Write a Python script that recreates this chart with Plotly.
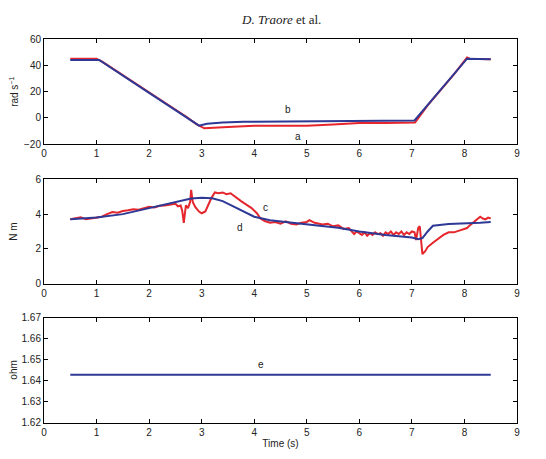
import plotly.graph_objects as go
from plotly.subplots import make_subplots

# Panel 1: speed (rad/s)
t_a = [0.5, 1.0, 1.1, 2.0, 2.6, 2.65, 2.7, 2.9, 3.05, 3.5, 4.0, 4.5, 5.0, 5.5, 6.0, 6.5, 7.0, 7.06, 7.3, 7.6, 7.8, 8.05, 8.1, 8.5]
v_a = [45, 45, 43, 19.5, 3.5, 2.5, 1.0, -4.8, -8, -7, -6, -6, -6, -5, -4, -4, -4, -3.5, 9.5, 23.5, 33, 46, 45, 44.5]
t_b = [0.5, 1.05, 2.0, 2.95, 3.1, 3.4, 3.8, 4.5, 5.5, 6.5, 7.05, 7.5, 8.05, 8.5]
v_b = [44, 44, 19.0, -6, -4.5, -3.5, -3, -2.8, -2.5, -2.2, -2, 19.2, 45, 44.5]

# Panel 2: torque (N m)
t_c = [0.5, 0.6, 0.7, 0.8, 0.9, 1.0, 1.1, 1.2, 1.3, 1.4, 1.5, 1.6, 1.7, 1.8, 1.9, 2.0, 2.1, 2.2,
       2.3, 2.4, 2.5, 2.55, 2.6, 2.63, 2.66, 2.7, 2.74, 2.78, 2.8, 2.83, 2.88, 2.95, 3.0, 3.07,
       3.12, 3.18, 3.25, 3.32, 3.4, 3.47, 3.55, 3.65, 3.75, 3.85, 3.95, 4.05, 4.12, 4.2, 4.3,
       4.4, 4.5, 4.6, 4.7, 4.8, 4.9, 5.0, 5.05, 5.15, 5.3, 5.4, 5.5, 5.6, 5.7, 5.8, 5.85, 5.9,
       5.95, 6.0, 6.05, 6.1, 6.15, 6.2, 6.25, 6.3, 6.35, 6.4, 6.45, 6.5, 6.55, 6.6, 6.65, 6.7,
       6.75, 6.8, 6.85, 6.9, 6.95, 7.0, 7.05, 7.08, 7.12, 7.15, 7.18, 7.2,
       7.25, 7.3, 7.4, 7.5, 7.6, 7.7, 7.8, 7.9, 8.0, 8.05, 8.1, 8.2, 8.3, 8.35, 8.4, 8.45, 8.5]
v_c = [3.7, 3.78, 3.82, 3.7, 3.75, 3.8, 3.85, 4.0, 4.12, 4.08, 4.18, 4.22, 4.28, 4.25, 4.35, 4.42, 4.38, 4.48,
       4.5, 4.55, 4.6, 4.45, 4.5, 4.2, 3.5, 4.5, 4.35, 4.7, 5.4, 4.7, 4.4, 4.15, 4.05, 4.15,
       4.5, 4.9, 5.25, 5.2, 5.25, 5.15, 5.2, 4.95, 4.75, 4.55, 4.35, 4.05, 3.75, 3.6, 3.5,
       3.55, 3.45, 3.58, 3.45, 3.4, 3.5, 3.55, 3.65, 3.5, 3.4, 3.45, 3.3, 3.35, 3.15, 3.2, 3.0, 2.85,
       3.0, 2.9, 2.8, 2.95, 2.75, 2.9, 2.8, 2.95, 2.85, 2.9, 2.75, 2.95, 2.85, 3.0, 2.8, 2.95,
       2.85, 3.0, 2.8, 2.95, 2.85, 3.0, 2.95, 2.5, 3.2, 3.3, 2.5, 1.7,
       1.85, 2.1, 2.35, 2.6, 2.8, 2.95, 2.95, 3.05, 3.15, 3.2, 3.35, 3.6, 3.85, 3.75, 3.7, 3.8, 3.75]
t_d = [0.5, 1.0, 1.5, 2.0, 2.5, 2.8, 3.0, 3.2, 3.4, 3.6, 3.8, 4.0, 4.3, 4.7, 5.2, 5.6, 6.0, 6.5, 7.0,
       7.12, 7.2, 7.3, 7.4, 7.7, 8.0, 8.3, 8.5]
v_d = [3.7, 3.8, 4.0, 4.35, 4.7, 4.9, 4.95, 4.92, 4.75, 4.45, 4.15, 3.85, 3.65, 3.5, 3.35, 3.22, 3.0, 2.8, 2.65,
       2.55, 2.62, 3.0, 3.33, 3.43, 3.45, 3.5, 3.55]

# Panel 3: resistance (ohm)
t_e = [0.5, 8.5]
v_e = [1.643, 1.643]

RED = "#e5262c"
BLUE = "#2e3996"

fig = make_subplots(rows=3, cols=1, shared_xaxes=False, vertical_spacing=0.09)
fig.add_trace(go.Scatter(x=t_a, y=v_a, mode="lines", line=dict(color=RED, width=2)), row=1, col=1)
fig.add_trace(go.Scatter(x=t_b, y=v_b, mode="lines", line=dict(color=BLUE, width=2)), row=1, col=1)
fig.add_trace(go.Scatter(x=t_c, y=v_c, mode="lines", line=dict(color=RED, width=2)), row=2, col=1)
fig.add_trace(go.Scatter(x=t_d, y=v_d, mode="lines", line=dict(color=BLUE, width=2)), row=2, col=1)
fig.add_trace(go.Scatter(x=t_e, y=v_e, mode="lines", line=dict(color=BLUE, width=2)), row=3, col=1)

axis_style = dict(showline=True, linecolor="black", linewidth=1, mirror="ticks", ticks="inside",
                  ticklen=4, tickcolor="black", showgrid=False, zeroline=False,
                  tickfont=dict(family="Liberation Sans, Arial", size=10, color="#222"))

fig.update_layout(
    width=546, height=459, showlegend=False, plot_bgcolor="white", paper_bgcolor="white",
    margin=dict(l=44, r=29, t=39, b=29),
    xaxis=dict(domain=[0, 1], anchor="y", range=[0, 9], dtick=1, **axis_style),
    xaxis2=dict(domain=[0, 1], anchor="y2", range=[0, 9], dtick=1, **axis_style),
    xaxis3=dict(domain=[0, 1], anchor="y3", range=[0, 9], dtick=1, **axis_style,
                title=dict(text="Time (s)", standoff=2, font=dict(family="Liberation Sans, Arial", size=10, color="#222"))),
    yaxis=dict(domain=[0.7263, 1], range=[-20, 60], dtick=20, **axis_style),
    yaxis2=dict(domain=[0.3632, 0.6343], range=[0, 6], dtick=2, **axis_style),
    yaxis3=dict(domain=[0, 0.2737], range=[1.62, 1.67], dtick=0.01, tickformat=".2f", **axis_style),
)

lab_font = dict(family="Liberation Sans, Arial", size=10, color="#222")
for txt, yc in [("rad s<sup>\u22121</sup>", 0.863), ("N m", 0.499), ("ohm", 0.137)]:
    fig.add_annotation(text=txt, xref="paper", yref="paper", x=-0.065, y=yc, xanchor="center",
                       yanchor="middle", textangle=-90, showarrow=False, font=lab_font)

for txt, xx, yy, ax in [("b", 4.65, 6.0, "x"), ("a", 4.84, -14, "x"), ("c", 4.21, 4.36, "x2"),
                        ("d", 3.72, 3.23, "x2"), ("e", 4.13, 1.648, "x3")]:
    yref = "y" + ax[1:] if len(ax) > 1 else "y"
    fig.add_annotation(text=txt, x=xx, y=yy, xref=ax, yref=yref, showarrow=False, font=lab_font)

fig.add_annotation(text="<i>D. Traore</i> et al.", xref="paper", yref="paper", x=0.5, y=1, yshift=20,
                   xanchor="center", yanchor="middle", showarrow=False,
                   font=dict(family="Liberation Serif, Times New Roman", size=13, color="#222"))

fig.write_html("out.html")
